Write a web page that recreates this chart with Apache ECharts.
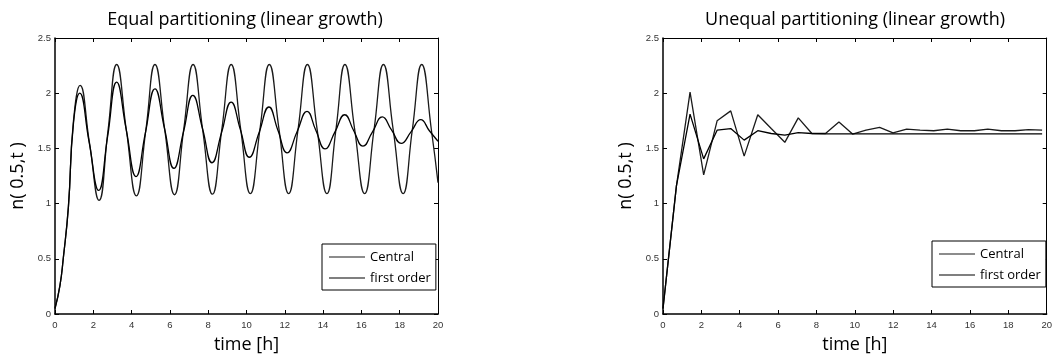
<!DOCTYPE html>
<html>
<head>
<meta charset="utf-8">
<script src="https://cdn.jsdelivr.net/npm/echarts@6/dist/echarts.min.js"></script>
<style>
    html, body { margin: 0; padding: 0; background: #fff; }
    #main { width: 1055px; height: 359px; }
</style>
</head>
<body>
<div id="main"></div>
<script>
// Equal partitioning: time [h] and n(0.5,t)
var eqTimeCentral = [0, 0.26, 0.43, 0.7, 0.96, 1.31, 1.8, 2.3, 2.76, 3.22, 3.73, 4.25, 4.74, 5.22, 5.73, 6.24, 6.72, 7.21, 7.71, 8.22, 8.71, 9.2, 9.7, 10.2, 10.7, 11.19, 11.7, 12.2, 12.69, 13.18, 13.69, 14.2, 14.67, 15.14, 15.65, 16.17, 16.66, 17.15, 17.66, 18.18, 18.66, 19.15, 19.66, 20];
var eqCentral = [0.05, 0.26, 0.5, 0.97, 1.74, 2.07, 1.55, 1.03, 1.65, 2.26, 1.66, 1.07, 1.66, 2.26, 1.67, 1.08, 1.67, 2.26, 1.67, 1.085, 1.67, 2.26, 1.67, 1.09, 1.67, 2.26, 1.67, 1.09, 1.67, 2.26, 1.67, 1.09, 1.67, 2.26, 1.67, 1.09, 1.67, 2.26, 1.67, 1.09, 1.67, 2.26, 1.66, 1.19];
var eqTimeFirst = [0, 0.26, 0.43, 0.7, 0.96, 1.29, 1.78, 2.28, 2.75, 3.22, 3.72, 4.23, 4.72, 5.22, 5.72, 6.21, 6.71, 7.2, 7.71, 8.2, 8.7, 9.2, 9.68, 10.15, 10.66, 11.17, 11.64, 12.12, 12.64, 13.16, 13.62, 14.1, 14.62, 15.13, 15.6, 16.08, 16.58, 17.09, 17.58, 18.08, 18.59, 19.1, 19.55, 20];
var eqFirst = [0.05, 0.26, 0.5, 0.97, 1.72, 2.0, 1.56, 1.12, 1.61, 2.1, 1.67, 1.245, 1.64, 2.04, 1.68, 1.32, 1.65, 1.98, 1.675, 1.37, 1.645, 1.92, 1.67, 1.42, 1.645, 1.875, 1.665, 1.46, 1.65, 1.835, 1.665, 1.495, 1.65, 1.805, 1.66, 1.52, 1.65, 1.785, 1.665, 1.545, 1.65, 1.76, 1.66, 1.565];

// Unequal partitioning
var uneqTime = [0, 0.7, 1.41, 2.12, 2.82, 3.53, 4.23, 4.94, 5.64, 6.35, 7.05, 7.76, 8.47, 9.17, 9.88, 10.58, 11.29, 11.99, 12.7, 13.4, 14.11, 14.82, 15.52, 16.23, 16.93, 17.64, 18.35, 19.05, 19.76];
var uneqCentral = [0.05, 1.16, 2.01, 1.26, 1.75, 1.84, 1.43, 1.805, 1.68, 1.555, 1.777, 1.635, 1.635, 1.74, 1.63, 1.665, 1.69, 1.64, 1.675, 1.665, 1.66, 1.675, 1.66, 1.66, 1.675, 1.66, 1.66, 1.67, 1.665];
var uneqFirst = [0.05, 1.16, 1.81, 1.405, 1.665, 1.68, 1.575, 1.66, 1.635, 1.62, 1.643, 1.635, 1.632, 1.632, 1.632, 1.632, 1.632, 1.632, 1.632, 1.632, 1.632, 1.632, 1.632, 1.632, 1.632, 1.632, 1.632, 1.632, 1.632];

var xTicks = [0, 20, 2];   // min, max, interval
var yTicks = [0, 2.5, 0.5];

var titles = ['Equal partitioning (linear growth)', 'Unequal partitioning (linear growth)'];
var seriesNames = ['Central', 'first order'];

var nameFont = '"Open Sans", Lato, sans-serif';
var tickFont = '"Liberation Sans", Arial, sans-serif';

function pairs(xs, ys) {
    var out = [];
    for (var i = 0; i < xs.length; i++) {
        out.push([xs[i], ys[i]]);
    }
    return out;
}

var grids = [
    {left: 55, top: 38, width: 383, height: 281},
    {left: 663, top: 38, width: 384, height: 281}
];

function mainX(gi) {
    return {
        type: 'value', gridIndex: gi, min: xTicks[0], max: xTicks[1], interval: xTicks[2],
        name: 'time [h]', nameLocation: 'middle', nameGap: 22,
        nameTextStyle: {fontFamily: nameFont, fontSize: 18, color: '#000'},
        axisLine: {onZero: false, lineStyle: {color: '#000', width: 1.5}},
        axisTick: {inside: true, length: 4, lineStyle: {color: '#000'}},
        axisLabel: {margin: 6, fontFamily: tickFont, fontSize: 9.5, color: '#333'},
        splitLine: {show: false}
    };
}

function topX(gi) {
    return {
        type: 'value', gridIndex: gi, position: 'top', min: xTicks[0], max: xTicks[1], interval: xTicks[2],
        axisLine: {onZero: false, lineStyle: {color: '#000', width: 1}},
        axisTick: {inside: true, length: 4, lineStyle: {color: '#000'}},
        axisLabel: {show: false},
        splitLine: {show: false}
    };
}

function mainY(gi) {
    return {
        type: 'value', gridIndex: gi, min: yTicks[0], max: yTicks[1], interval: yTicks[2],
        name: 'n( 0.5,t )', nameLocation: 'middle', nameGap: 28,
        nameTextStyle: {fontFamily: nameFont, fontSize: 18, color: '#000'},
        axisLine: {onZero: false, lineStyle: {color: '#000', width: 1.5}},
        axisTick: {inside: true, length: 4, lineStyle: {color: '#000'}},
        axisLabel: {margin: 4, fontFamily: tickFont, fontSize: 9.5, color: '#333'},
        splitLine: {show: false}
    };
}

function rightY(gi) {
    return {
        type: 'value', gridIndex: gi, position: 'right', min: yTicks[0], max: yTicks[1], interval: yTicks[2],
        axisLine: {onZero: false, lineStyle: {color: '#000', width: 1}},
        axisTick: {inside: true, length: 4, lineStyle: {color: '#000'}},
        axisLabel: {show: false},
        splitLine: {show: false}
    };
}

function lineSeries(name, xi, data, color) {
    return {
        name: name, type: 'line', xAxisIndex: xi, yAxisIndex: xi,
        data: data, symbol: 'none', smooth: xi === 0 ? 0.5 : false,
        lineStyle: {color: color, width: 1.3}, itemStyle: {color: color},
        silent: true, animation: false
    };
}

function legendFor(x, y) {
    return {
        orient: 'vertical', left: x, top: y,
        padding: [6, 5, 5, 7], itemGap: 7, itemWidth: 36, itemHeight: 1,
        icon: 'rect',
        borderColor: '#000', borderWidth: 1, borderRadius: 0,
        backgroundColor: '#fff',
        textStyle: {fontFamily: nameFont, fontSize: 13, color: '#000', lineHeight: 14},
        data: seriesNames
    };
}

var chart = echarts.init(document.getElementById('main'), null, {renderer: 'canvas'});

var option = {
    animation: false,
    backgroundColor: '#fff',
    title: [
        {text: titles[0], left: 245, top: 11, textAlign: 'center', padding: 0,
            textStyle: {fontFamily: nameFont, fontSize: 18, fontWeight: 'normal', color: '#000'}},
        {text: titles[1], left: 855, top: 11, textAlign: 'center', padding: 0,
            textStyle: {fontFamily: nameFont, fontSize: 18, fontWeight: 'normal', color: '#000'}}
    ],
    grid: grids,
    xAxis: [mainX(0), mainX(1), topX(0), topX(1)],
    yAxis: [mainY(0), mainY(1), rightY(0), rightY(1)],
    legend: [
        legendFor(322, 244),
        legendFor(932, 241)
    ],
    series: [
        lineSeries(seriesNames[0], 0, pairs(eqTimeCentral, eqCentral), '#1a1a1a'),
        lineSeries(seriesNames[1], 0, pairs(eqTimeFirst, eqFirst), '#000'),
        lineSeries(seriesNames[0], 1, pairs(uneqTime, uneqCentral), '#1a1a1a'),
        lineSeries(seriesNames[1], 1, pairs(uneqTime, uneqFirst), '#000')
    ]
};

chart.setOption(option);
</script>
</body>
</html>
